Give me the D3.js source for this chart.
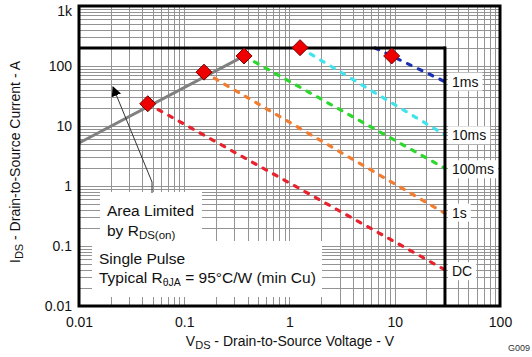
<!DOCTYPE html>
<html><head><meta charset="utf-8">
<script src="https://cdn.jsdelivr.net/npm/d3@7"></script>
<style>body{margin:0;background:#fff}svg{display:block;font-family:Arial,"Liberation Sans",sans-serif}</style>
</head><body><svg id="c" width="532" height="357"></svg>
<script>
const xTickValues = [0.01, 0.1, 1, 10, 100];
const xTickLabels = ["0.01", "0.1", "1", "10", "100"];
const yTickValues = [0.01, 0.1, 1, 10, 100, 1000];
const yTickLabels = ["0.01", "0.1", "1", "10", "100", "1k"];

const seriesNames = ["1ms", "10ms", "100ms", "1s", "DC"];
const seriesColors = ["#1c2fb0", "#3fe3ec", "#2bd82b", "#f27c30", "#e8222c"];
const lineStartV = [6.5, 1.26, 0.37, 0.154, 0.045];
const lineStartI = [200, 202, 147, 79, 23.5];
const lineEndV = [30, 30, 30, 30, 30];
const lineEndI = [54.7, 7.1, 1.97, 0.35, 0.04];
const labelI = [55, 7.0, 1.9, 0.36, 0.038];

const diamondV = [0.045, 0.154, 0.37, 1.26, 9.35];
const diamondI = [23.5, 79, 147, 202, 147];

const rdsV = [0.01, 0.40];
const rdsI = [5.2, 158];

const currentLimit = 200;
const voltageLimit = 30;

const svg = d3.select("#c");
const x = d3.scaleLog().domain([0.01, 100]).range([79, 500]);
const y = d3.scaleLog().domain([0.01, 1000]).range([306, 6]);

// grid
const gx = [], gy = [];
for (let d = 0.01; d < 100 * 1.001; d *= 10) for (let k = 1; k <= 9; k++) { const v = d * k; if (v <= 100 * 1.0001) gx.push(v); }
for (let d = 0.01; d < 1000 * 1.001; d *= 10) for (let k = 1; k <= 9; k++) { const v = d * k; if (v <= 1000 * 1.0001) gy.push(v); }
const grid = svg.append("g").attr("stroke", "#939393").attr("stroke-width", 1);
grid.selectAll(".vx").data(gx).join("line")
  .attr("x1", d => Math.round(x(d)) + 0.5).attr("x2", d => Math.round(x(d)) + 0.5)
  .attr("y1", y(0.01)).attr("y2", y(1000));
grid.selectAll(".hy").data(gy).join("line")
  .attr("y1", d => Math.round(y(d)) + 0.5).attr("y2", d => Math.round(y(d)) + 0.5)
  .attr("x1", x(0.01)).attr("x2", x(100));

// white text boxes
svg.append("rect").attr("x", 100).attr("y", 192).attr("width", 102).attr("height", 50).attr("fill", "#fff");
svg.append("rect").attr("x", 92).attr("y", 241).attr("width", 230).attr("height", 56).attr("fill", "#fff");

// dashed SOA lines
seriesNames.forEach((n, i) => {
  svg.append("line")
    .attr("x1", x(lineStartV[i])).attr("y1", y(lineStartI[i]))
    .attr("x2", x(lineEndV[i])).attr("y2", y(lineEndI[i]))
    .attr("stroke", seriesColors[i]).attr("stroke-width", 3.2)
    .attr("stroke-dasharray", "4,8").attr("stroke-linecap", "round");
});

// Rds(on) line
svg.append("line").attr("x1", x(rdsV[0])).attr("y1", y(rdsI[0]))
  .attr("x2", x(rdsV[1])).attr("y2", y(rdsI[1]))
  .attr("stroke", "#808080").attr("stroke-width", 3);

// limit lines
svg.append("line").attr("x1", x(0.01)).attr("x2", x(voltageLimit)).attr("y1", y(currentLimit)).attr("y2", y(currentLimit))
  .attr("stroke", "#000").attr("stroke-width", 3);
svg.append("line").attr("x1", x(voltageLimit)).attr("x2", x(voltageLimit)).attr("y1", y(currentLimit) - 1.5).attr("y2", y(0.01))
  .attr("stroke", "#000").attr("stroke-width", 3);

// frame
svg.append("rect").attr("x", x(0.01)).attr("y", y(1000)).attr("width", x(100) - x(0.01)).attr("height", y(0.01) - y(1000))
  .attr("fill", "none").attr("stroke", "#000").attr("stroke-width", 3);

// diamonds
svg.selectAll(".dm").data(diamondV).join("path")
  .attr("transform", (d, i) => `translate(${x(d)},${y(diamondI[i])})`)
  .attr("d", "M0,-8L8,0L0,8L-8,0Z")
  .attr("fill", "#ee0000").attr("stroke", "#7a0000").attr("stroke-width", 1);

// arrow
svg.append("defs").append("marker").attr("id", "ah").attr("viewBox", "0 0 10 10")
  .attr("refX", 9).attr("refY", 5).attr("markerWidth", 10).attr("markerHeight", 10)
  .attr("markerUnits", "userSpaceOnUse").attr("orient", "auto")
  .append("path").attr("d", "M0,0L10,5L0,10Z").attr("fill", "#000");
svg.append("path").attr("d", "M152,193 L152,182 L113,87").attr("fill", "none")
  .attr("stroke", "#333").attr("stroke-width", 1).attr("marker-end", "url(#ah)");

// right labels
seriesNames.forEach((n, i) => {
  const cy = y(labelI[i]);
  const t = svg.append("text").attr("x", 452).attr("y", cy + 5).attr("font-size", 14).attr("fill", "#111").text(n);
  const w = t.node().getComputedTextLength();
  svg.insert("rect", "text").attr("x", 448).attr("y", cy - 9).attr("width", w + 8).attr("height", 18).attr("fill", "#fff");
});

// text box texts
const tb = svg.append("g").attr("font-size", 15.5).attr("fill", "#111");
tb.append("text").attr("x", 107).attr("y", 216).text("Area Limited");
const t2 = tb.append("text").attr("x", 107).attr("y", 236);
t2.append("tspan").text("by R");
t2.append("tspan").attr("font-size", 11.5).attr("dy", 3).text("DS(on)");
tb.append("text").attr("x", 99).attr("y", 264).text("Single Pulse");
const t4 = tb.append("text").attr("x", 99).attr("y", 283);
t4.append("tspan").text("Typical R");
t4.append("tspan").attr("font-size", 10.5).attr("dy", 3).text("θJA");
t4.append("tspan").attr("dy", -3).text(" = 95°C/W (min Cu)");

// x axis
const xAxis = d3.axisBottom(x).tickValues(xTickValues).tickFormat((d, i) => xTickLabels[i]).tickSize(0).tickPadding(0);
const xa = svg.append("g").attr("transform", "translate(0,317)").call(xAxis);
xa.select(".domain").remove();
xa.selectAll("text").attr("font-size", 14).attr("fill", "#111").attr("font-family", "Arial,'Liberation Sans',sans-serif");

const yAxis = d3.axisLeft(y).tickValues(yTickValues).tickFormat((d, i) => yTickLabels[i]).tickSize(0).tickPadding(8);
const ya = svg.append("g").attr("transform", "translate(80,0)").call(yAxis);
ya.select(".domain").remove();
ya.selectAll("text").attr("font-size", 14).attr("fill", "#111").attr("font-family", "Arial,'Liberation Sans',sans-serif")
  .attr("dy", d => d === 1000 ? "0.7em" : "0.32em");

// axis titles
const xt = svg.append("text").attr("x", 290).attr("y", 346).attr("text-anchor", "middle").attr("font-size", 14).attr("fill", "#111");
xt.append("tspan").text("V");
xt.append("tspan").attr("font-size", 11).attr("dy", 3).text("DS");
xt.append("tspan").attr("dy", -3).text(" - Drain-to-Source Voltage - V");

const yt = svg.append("text").attr("transform", "translate(20,162) rotate(-90)").attr("text-anchor", "middle").attr("font-size", 14).attr("fill", "#111");
yt.append("tspan").text("I");
yt.append("tspan").attr("font-size", 11).attr("dy", 3).text("DS");
yt.append("tspan").attr("dy", -3).text(" - Drain-to-Source Current - A");

svg.append("text").attr("x", 530).attr("y", 351).attr("text-anchor", "end").attr("font-size", 9).attr("fill", "#333").text("G009");
</script></body></html>
